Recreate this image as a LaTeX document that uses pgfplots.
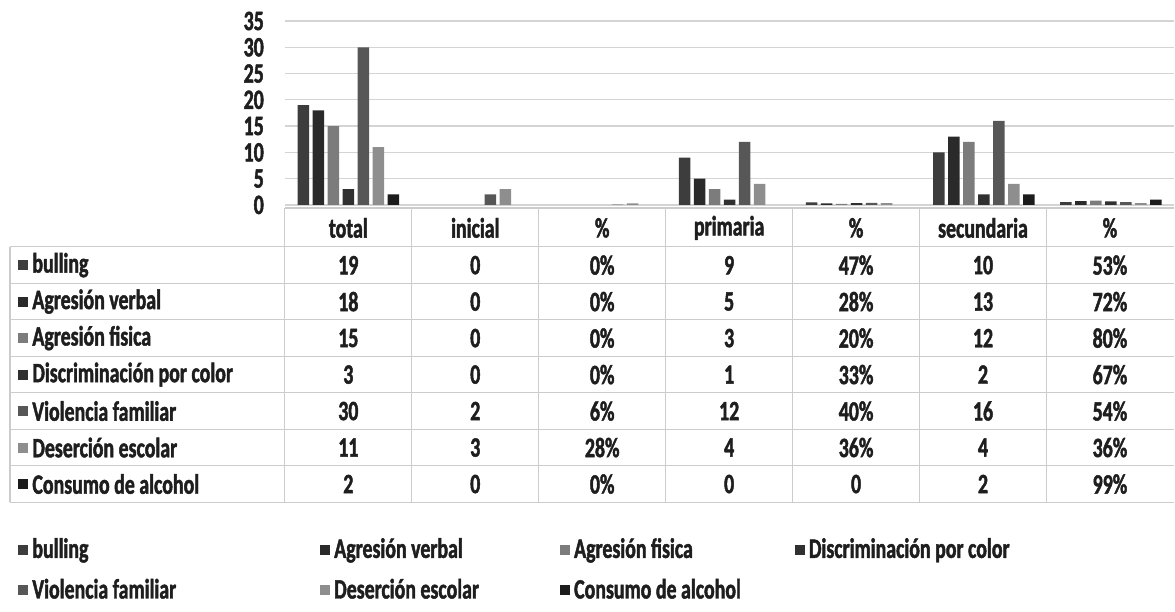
\documentclass[border=0pt]{standalone}
\usepackage{fontspec}
\setmainfont{Carlito}[FakeStretch=0.71, BoldFont={Carlito Bold}, BoldFeatures={FakeStretch=0.71, FakeBold=1.6}]
\usepackage{pgfplots}
\usepackage{pgfplotstable}
\pgfplotsset{compat=1.18}
\definecolor{cbul}{HTML}{3D3D3D}
\definecolor{cver}{HTML}{2A2A2A}
\definecolor{cfis}{HTML}{7C7C7C}
\definecolor{cdis}{HTML}{303030}
\definecolor{cvio}{HTML}{575757}
\definecolor{cdes}{HTML}{8E8E8E}
\definecolor{ccon}{HTML}{1C1C1C}
\definecolor{gridc}{HTML}{D4D4D4}
\definecolor{tabc}{HTML}{CCCCCC}
\definecolor{txt}{HTML}{1E1E1E}
\pgfplotstableread{
x bul ver fis dis vio des con
0 19 18 15 3 30 11 2
1 0 0 0 0 2 3 0
2 0 0 0 0 0.06 0.28 0
3 9 5 3 1 12 4 0
4 0.47 0.28 0.20 0.33 0.40 0.36 0
5 10 13 12 2 16 4 2
6 0.53 0.72 0.80 0.67 0.54 0.36 0.99
}\data
\newcommand{\fs}{\fontsize{14}{16.5}\selectfont\bfseries}
\begin{document}
\begin{tikzpicture}[font=\fs, text=txt]
\path (0pt,0pt) rectangle (587.5pt,-306pt);
\begin{axis}[
  at={(142.5pt,-102.5pt)}, anchor=south west,
  scale only axis, width=445pt, height=92pt,
  xmin=-0.5, xmax=6.5, ymin=0, ymax=35,
  ytick={0,5,...,35}, xtick=\empty,
  ymajorgrids, grid style={draw=gridc, line width=0.6pt},
  axis line style={draw=none}, major tick length=0pt,
  tick label style={font=\fs, text=txt},
  yticklabel style={xshift=-7pt},
  /pgf/number format/assume math mode=true,
  ybar=1.75pt, bar width=5.75pt,
  clip=false,
  y filter/.expression={y==0 ? nan : y},
  unbounded coords=discard,
  legend columns=4,
  legend style={at={(rel axis cs:-0.3,-1.81)}, anchor=north west,
    draw=none, fill=none, inner sep=0pt, row sep=9pt,
    nodes={inner sep=0pt, anchor=west},
    /tikz/every odd column/.append style={column sep=2pt}},
  legend image code/.code={\fill[#1] (0pt,-2.5pt) rectangle (5pt,2.5pt);},
]
\addplot[fill=cbul, draw=none] table[x=x, y=bul] {\data};
\addlegendentry{\makebox[144pt][l]{bulling}}
\addplot[fill=cver, draw=none] table[x=x, y=ver] {\data};
\addlegendentry{\makebox[113pt][l]{Agresión verbal}}
\addplot[fill=cfis, draw=none] table[x=x, y=fis] {\data};
\addlegendentry{\makebox[110.5pt][l]{Agresión fisica}}
\addplot[fill=cdis, draw=none] table[x=x, y=dis] {\data};
\addlegendentry{Discriminación por color}
\addplot[fill=cvio, draw=none] table[x=x, y=vio] {\data};
\addlegendentry{\makebox[144pt][l]{Violencia familiar}}
\addplot[fill=cdes, draw=none] table[x=x, y=des] {\data};
\addlegendentry{\makebox[113pt][l]{Deserción escolar}}
\addplot[fill=ccon, draw=none] table[x=x, y=con] {\data};
\addlegendentry{\makebox[110.5pt][l]{Consumo de alcohol}}
\end{axis}
\begin{scope}[x=0.5pt, y=-0.5pt]
  \draw[tabc, line width=0.6pt] (285,208) -- (1175,208);
  \foreach \yy in {247,283.5,320,356.5,393,429.5,466,502.5}
    \draw[tabc, line width=0.6pt] (10,\yy) -- (1175,\yy);
  \draw[tabc, line width=0.6pt] (10,247) -- (10,502.5);
  \foreach \k in {0,...,6}
    \draw[tabc, line width=0.6pt] (285+127*\k,208) -- (285+127*\k,502.5);
  \foreach \h [count=\i from 0] in {total,inicial,\%,primaria,\%,secundaria,\%}
    \node at (348.5+127*\i,228) {\h};
  \foreach \lab/\col [count=\r from 0] in {bulling/cbul,Agresión verbal/cver,Agresión fisica/cfis,Discriminación por color/cdis,Violencia familiar/cvio,Deserción escolar/cdes,Consumo de alcohol/ccon}{
    \fill[\col] (18,265.25+36.5*\r-5) rectangle (28,265.25+36.5*\r+5);
    \node[anchor=west, inner sep=0pt] at (32,265.25+36.5*\r) {\lab};
  }
  \foreach \a/\b/\c/\d/\e/\f/\g [count=\r from 0] in {
    19/0/0\%/9/47\%/10/53\%,
    18/0/0\%/5/28\%/13/72\%,
    15/0/0\%/3/20\%/12/80\%,
    3/0/0\%/1/33\%/2/67\%,
    30/2/6\%/12/40\%/16/54\%,
    11/3/28\%/4/36\%/4/36\%,
    2/0/0\%/0/0/2/99\%}{
    \node at (348.5,265.25+36.5*\r) {\a};
    \node at (475.5,265.25+36.5*\r) {\b};
    \node at (602.5,265.25+36.5*\r) {\c};
    \node at (729.5,265.25+36.5*\r) {\d};
    \node at (856.5,265.25+36.5*\r) {\e};
    \node at (983.5,265.25+36.5*\r) {\f};
    \node at (1110.5,265.25+36.5*\r) {\g};
  }
\end{scope}
\end{tikzpicture}
\end{document}
